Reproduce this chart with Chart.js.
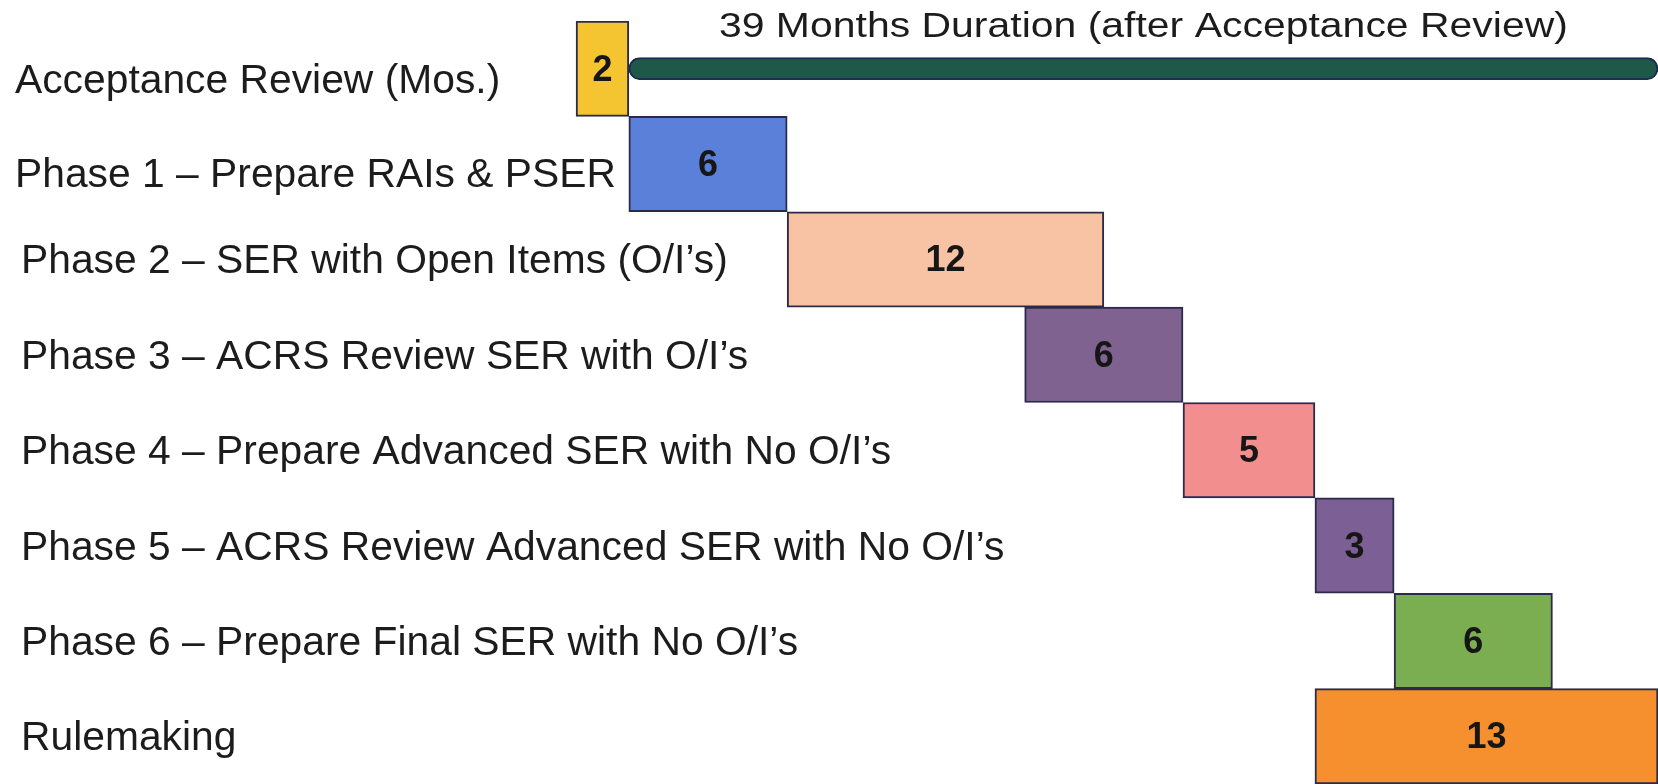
<!DOCTYPE html>
<html>
<head>
<meta charset="utf-8">
<script src="https://cdn.jsdelivr.net/npm/chart.js@4.4.1/dist/chart.umd.min.js"></script>
<style>
  html, body { margin: 0; padding: 0; background: #ffffff; }
  #wrap { width: 1658px; height: 784px; position: relative; }
</style>
</head>
<body>
<div id="wrap"><canvas id="c"></canvas></div>
<script>
// ---- data ----
const categories = [
  "Acceptance Review (Mos.)",
  "Phase 1 \u2013 Prepare RAIs & PSER",
  "Phase 2 \u2013 SER with Open Items (O/I\u2019s)",
  "Phase 3 \u2013 ACRS Review SER with O/I\u2019s",
  "Phase 4 \u2013 Prepare Advanced SER with No O/I\u2019s",
  "Phase 5 \u2013 ACRS Review Advanced SER with No O/I\u2019s",
  "Phase 6 \u2013 Prepare Final SER with No O/I\u2019s",
  "Rulemaking"
];
const startMonths = [0, 2, 8, 17, 23, 28, 31, 28];
const durations   = [2, 6, 12, 6, 5, 3, 6, 13];
const totalStart = 2;
const totalDuration = 39;
const totalLabel = "39 Months Duration (after Acceptance Review)";

const barColors = ["#F4C431", "#5B80DA", "#F8C3A4", "#806290", "#F38E8E", "#7B5F95", "#7AAE50", "#F6902E"];

const phaseData = startMonths.map((s, i) => [s, s + durations[i]]);
const totalData = categories.map((c, i) => i === 0 ? [totalStart, totalStart + totalDuration] : null);

const FONT = "'Liberation Sans', Arial, Helvetica, sans-serif";

const textPlugin = {
  id: 'textPlugin',
  afterDatasetsDraw(chart) {
    const ctx = chart.ctx;
    const x = chart.scales.x, y = chart.scales.y;
    ctx.save();
    // bar value labels
    ctx.fillStyle = "#161616";
    ctx.font = "bold 36px " + FONT;
    ctx.textAlign = "center";
    ctx.textBaseline = "alphabetic";
    durations.forEach((d, i) => {
      const cx = (x.getPixelForValue(startMonths[i]) + x.getPixelForValue(startMonths[i] + d)) / 2;
      const cy = y.getPixelForValue(i);
      ctx.fillText(String(d), cx, cy + 12);
    });
    // category labels
    ctx.fillStyle = "#1c1c1c";
    ctx.font = "40px " + FONT;
    ctx.textAlign = "left";
    categories.forEach((c, i) => {
      const lx = i < 2 ? 15 : 21;
      const dy = i === 0 ? 10 : (i === 1 ? 9 : 0);
      ctx.save();
      ctx.translate(lx, y.getPixelForValue(i) + 14 + dy);
      ctx.scale(1.02, 1);
      ctx.fillText(c, 0, 0);
      ctx.restore();
    });
    // duration title
    ctx.font = "35px " + FONT;
    ctx.textAlign = "center";
    const tx = (x.getPixelForValue(totalStart) + x.getPixelForValue(totalStart + totalDuration)) / 2;
    ctx.save();
    ctx.translate(tx, 37);
    ctx.scale(1.17, 1);
    ctx.fillText(totalLabel, 0, 0);
    ctx.restore();
    ctx.restore();
  }
};

new Chart(document.getElementById('c'), {
  type: 'bar',
  data: {
    labels: categories,
    datasets: [
      {
        label: 'Total',
        data: totalData,
        backgroundColor: "#1E5846",
        borderColor: "#1F2C55",
        borderWidth: 2,
        borderSkipped: false,
        borderRadius: 11,
        barThickness: 22,
        grouped: false,
        order: 1
      },
      {
        label: 'Phases',
        data: phaseData,
        backgroundColor: barColors,
        borderColor: "#2C2A4A",
        borderWidth: 2,
        borderSkipped: false,
        categoryPercentage: 1.0,
        barPercentage: 1.0,
        grouped: false,
        order: 2
      }
    ]
  },
  options: {
    indexAxis: 'y',
    responsive: true,
    maintainAspectRatio: false,
    animation: false,
    layout: { padding: { top: 21, bottom: 0, left: 0, right: 0 } },
    plugins: { legend: { display: false }, tooltip: { enabled: false }, title: { display: false } },
    scales: {
      x: { display: false, min: -21.83, max: 41 },
      y: { display: false, offset: true }
    }
  },
  plugins: [textPlugin]
});
</script>
</body>
</html>
